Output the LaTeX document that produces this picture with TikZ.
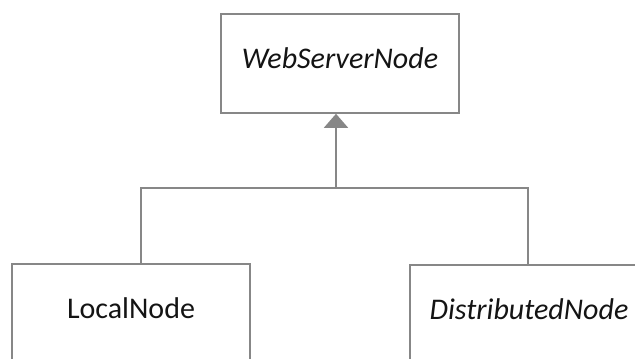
\documentclass[tikz,border=0pt]{standalone}
\usepackage{fontspec}
\setmainfont{Carlito}
\usetikzlibrary{arrows.meta}
\definecolor{linegray}{HTML}{878787}
\definecolor{txt}{HTML}{141414}
\tikzset{
  umlbox/.style={draw=linegray, line width=1.6pt, fill=white, minimum width=238pt, minimum height=99pt,
    text height=19pt, text depth=9pt, inner sep=0pt, text=txt, font=\fontsize{30}{34}\selectfont},
  conn/.style={draw=linegray, line width=1.6pt},
  inherit/.style={conn, -{Triangle[length=14pt, width=24pt, fill=linegray]}}
}
\begin{document}
\begin{tikzpicture}[x=1pt, y=-1pt]
\useasboundingbox (0,0) rectangle (635,359);
\clip (0,0) rectangle (635,359);
\fill[white] (0,0) rectangle (635,359);
\node[umlbox] (top) at (340,63.5) {\itshape WebServerNode};
\node[umlbox] (left) at (131,313.5) {LocalNode};
\node[umlbox] (right) at (529,314.5) {\itshape DistributedNode};
\coordinate (j) at (336,188);
\draw[conn] ([xshift=10pt]left.north) |- (j) -| ([xshift=-1pt]right.north);
\draw[inherit] (j) -- (j |- top.south);
\end{tikzpicture}
\end{document}
